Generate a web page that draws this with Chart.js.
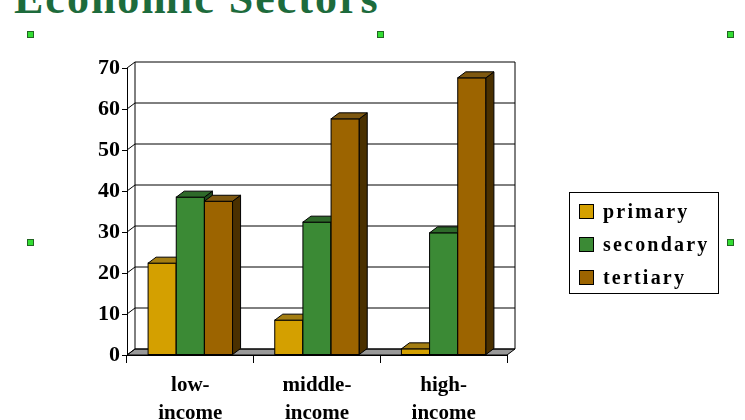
<!DOCTYPE html>
<html>
<head>
<meta charset="utf-8">
<script src="https://cdn.jsdelivr.net/npm/chart.js@4"></script>
<style>
  body { margin:0; width:745px; height:420px; background:#fff; overflow:hidden; position:relative; font-family:"Liberation Serif", serif; }
  #wrap { position:absolute; left:0; top:0; width:745px; height:420px; }
  .title { position:absolute; left:14px; top:-27px; font-size:44px; font-weight:bold; color:#1d6b3c; letter-spacing:2px; white-space:nowrap; }
  .h { position:absolute; width:5px; height:5px; background:#33dd33; border:1px solid #226622; }
  .legend { position:absolute; left:569px; top:192px; width:150px; height:102px; border:1px solid #000; box-sizing:border-box; padding:8px 0 0 9px; }
  .legend div { font-size:20px; font-weight:bold; letter-spacing:2.2px; height:33px; line-height:20px; white-space:nowrap; }
  .legend span { display:inline-block; width:13px; height:13px; border:1px solid #000; margin-right:9px; vertical-align:-1px; }
</style>
</head>
<body>
<div class="title">Economic Sectors</div>
<div class="h" style="left:27px;top:31px"></div>
<div class="h" style="left:377px;top:31px"></div>
<div class="h" style="left:727px;top:31px"></div>
<div class="h" style="left:27px;top:239px"></div>
<div class="h" style="left:727px;top:239px"></div>
<div id="wrap"><canvas id="c" width="745" height="420"></canvas></div>
<div class="legend" id="legend"></div>
<script>
// данные
const categories = [['low-', 'income'], ['middle-', 'income'], ['high-', 'income']];
const seriesNames = ['primary', 'secondary', 'tertiary'];
const primary = [22.4, 8.5, 1.5];
const secondary = [38.5, 32.4, 29.8];
const tertiary = [37.5, 57.6, 67.6];
const yTicks = [0, 10, 20, 30, 40, 50, 60, 70];

const fronts = ['#d4a000', '#3b8a35', '#9c6400'];
const tops = ['#a47e12', '#2e6a2a', '#7e5810'];
const sides = ['#806000', '#1f4a1c', '#4a3000'];
const DX = 8, DY = 6;

document.getElementById('legend').innerHTML = seriesNames.map((n, i) =>
  '<div><span style="background:' + fronts[i] + '"></span>' + n + '</div>').join('');

// 3D стенки и бары
const threeD = {
  id: 'threeD',
  beforeInit(chart) { chart.ctx.letterSpacing = '2px'; },
  beforeDatasetsDraw(chart) {
    const { ctx, chartArea: a, scales: { y } } = chart;
    ctx.save();
    ctx.strokeStyle = '#000';
    ctx.lineWidth = 1;
    // пол
    ctx.fillStyle = '#999';
    ctx.beginPath();
    ctx.moveTo(a.left, a.bottom); ctx.lineTo(a.right, a.bottom);
    ctx.lineTo(a.right + DX, a.bottom - DY); ctx.lineTo(a.left + DX, a.bottom - DY);
    ctx.closePath(); ctx.fill(); ctx.stroke();
    yTicks.forEach(t => {
      const py = y.getPixelForValue(t);
      ctx.beginPath();
      ctx.moveTo(a.left, py); ctx.lineTo(a.left + DX, py - DY); ctx.lineTo(a.right + DX, py - DY);
      ctx.stroke();
    });
    ctx.beginPath();
    ctx.moveTo(a.left + DX, a.top - DY); ctx.lineTo(a.left + DX, a.bottom - DY);
    ctx.moveTo(a.right + DX, a.top - DY); ctx.lineTo(a.right + DX, a.bottom - DY);
    ctx.stroke();
    ctx.restore();
  },
  afterDatasetsDraw(chart) {
    const ctx = chart.ctx;
    ctx.save();
    ctx.strokeStyle = '#000';
    ctx.lineWidth = 1;
    for (let c = 0; c < categories.length; c++) {
      for (let d = 0; d < seriesNames.length; d++) {
        const b = chart.getDatasetMeta(d).data[c];
        const l = b.x - b.width / 2, r = b.x + b.width / 2;
        ctx.fillStyle = fronts[d];
        ctx.fillRect(l, b.y, r - l, b.base - b.y);
        ctx.strokeRect(l, b.y, r - l, b.base - b.y);
        ctx.fillStyle = sides[d];
        ctx.beginPath();
        ctx.moveTo(r, b.base); ctx.lineTo(r + DX, b.base - DY); ctx.lineTo(r + DX, b.y - DY); ctx.lineTo(r, b.y);
        ctx.closePath(); ctx.fill(); ctx.stroke();
        ctx.fillStyle = tops[d];
        ctx.beginPath();
        ctx.moveTo(l, b.y); ctx.lineTo(l + DX, b.y - DY); ctx.lineTo(r + DX, b.y - DY); ctx.lineTo(r, b.y);
        ctx.closePath(); ctx.fill(); ctx.stroke();
      }
    }
    ctx.restore();
  }
};

new Chart(document.getElementById('c'), {
  type: 'bar',
  data: {
    labels: categories,
    datasets: [primary, secondary, tertiary].map((v, i) => ({
      label: seriesNames[i], data: v,
      backgroundColor: 'rgba(0,0,0,0)', borderWidth: 0,
      barPercentage: 1, categoryPercentage: 0.667
    }))
  },
  options: {
    responsive: false, animation: false,
    layout: { padding: { left: 0, right: 238, top: 68, bottom: 0 } },
    plugins: { legend: { display: false }, tooltip: { enabled: false } },
    scales: {
      x: {
        afterFit(s) { s.height = 65; },
        grid: { offset: true, drawOnChartArea: false, tickLength: 8, color: '#000' },
        border: { display: true, color: '#000' },
        ticks: { color: '#000', padding: 8, font: { family: 'Liberation Serif', size: 21, weight: 'bold', lineHeight: 1.35 } }
      },
      y: {
        min: 0, max: 70,
        afterFit(s) { s.width = 127; },
        afterBuildTicks(s) { s.ticks = yTicks.map(v => ({ value: v })); },
        grid: { drawOnChartArea: false, tickLength: 5, color: '#000' },
        border: { display: true, color: '#000' },
        ticks: { color: '#000', padding: 2, font: { family: 'Liberation Serif', size: 22, weight: 'bold' } }
      }
    }
  },
  plugins: [threeD]
});
</script>
</body>
</html>
